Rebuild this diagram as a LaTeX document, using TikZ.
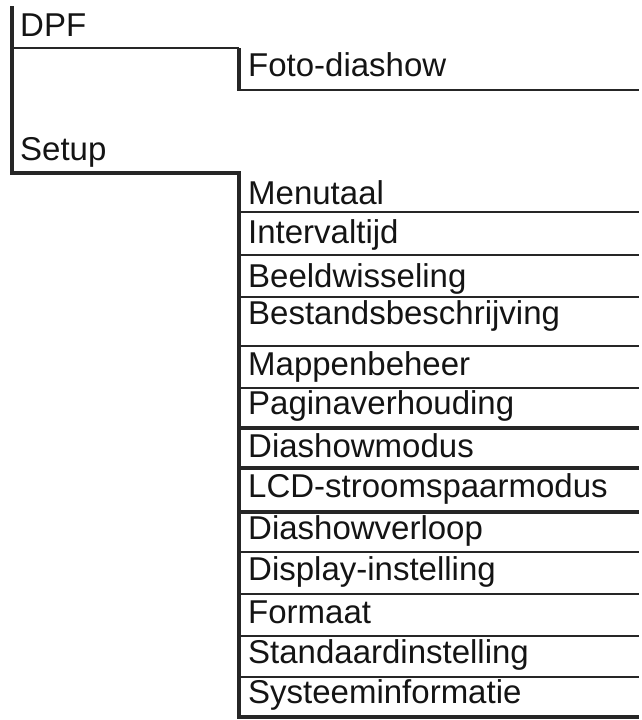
\documentclass[tikz,border=0pt]{standalone}
\usepackage{fontspec}
\setmainfont{Liberation Sans}
\definecolor{ink}{HTML}{141414}
\definecolor{rule}{HTML}{262626}
\begin{document}
\begin{tikzpicture}[x=1pt,y=-1pt,
  lbl/.style={anchor=base west,inner sep=0pt,text=ink,font=\fontsize{33}{38}\selectfont},
  thin/.style={draw=rule,line width=2.8pt},
  thick/.style={draw=rule,line width=4pt},
  trunk/.style={draw=rule,line width=4.2pt}]
\useasboundingbox (0,0) rectangle (642,720);
% labels
\node[lbl] (dpf) at (20,36) {DPF};
\node[lbl] (foto) at (248,76) {Foto-diashow};
\node[lbl] (setup) at (20,160) {Setup};
\node[lbl] (m1) at (248,204) {Menutaal};
\node[lbl] (m2) at (248,243) {Intervaltijd};
\node[lbl] (m3) at (248,287) {Beeldwisseling};
\node[lbl] (m4) at (248,324) {Bestandsbeschrijving};
\node[lbl] (m5) at (248,375) {Mappenbeheer};
\node[lbl] (m6) at (248,414) {Paginaverhouding};
\node[lbl] (m7) at (248,457) {Diashowmodus};
\node[lbl] (m8) at (248,497) {LCD-stroomspaarmodus};
\node[lbl] (m9) at (248,539) {Diashowverloop};
\node[lbl] (m10) at (248,580) {Display-instelling};
\node[lbl] (m11) at (248,623) {Formaat};
\node[lbl] (m12) at (248,663) {Standaardinstelling};
\node[lbl] (m13) at (248,703) {Systeeminformatie};
% coordinates
\coordinate (top) at (12,8);
\coordinate (a) at (12,48);
\coordinate (b) at (239,48);
\coordinate (c) at (239,90);
\coordinate (d) at (639,90);
\coordinate (s) at (12,173);
\coordinate (t) at (239,173);
\coordinate (bot) at (239,717);
% tree lines
\draw[trunk,line cap=rect] (top) -- (s) -- (t) -- (bot);
\draw[thin] (a) -- (b);
\draw[trunk] (b) -- (c);
\draw[thin] ([xshift=-2.1pt]c) -- (d);
% row rules
\foreach \yy in {212,255,297,346,388,552,594,636,677}
  \draw[thin] (239,\yy) -- (639,\yy);
\foreach \yy in {428,468,512,717}
  \draw[thick] (239,\yy) -- (639,\yy);
\end{tikzpicture}
\end{document}
